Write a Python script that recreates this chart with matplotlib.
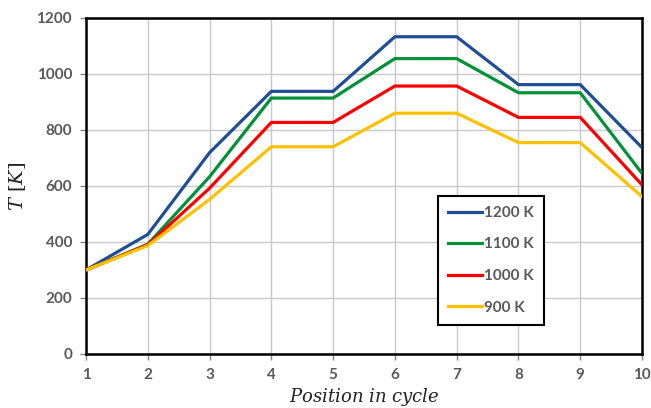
import matplotlib
matplotlib.use("Agg")
import matplotlib.pyplot as plt
from matplotlib.font_manager import FontProperties

positions = [1, 2, 3, 4, 5, 6, 7, 8, 9, 10]
series_labels = ["1200 K", "1100 K", "1000 K", "900 K"]
t_1200 = [300, 427, 719, 938, 938, 1133, 1133, 962, 962, 737]
t_1100 = [300, 392, 633, 914, 914, 1055, 1055, 933, 933, 645]
t_1000 = [300, 390, 592, 827, 827, 957, 957, 845, 845, 604]
t_900 = [300, 387, 552, 740, 740, 860, 860, 755, 755, 562]
colors = ["#1F4E96", "#009139", "#FF0000", "#FFC000"]
yticks = [0, 200, 400, 600, 800, 1000, 1200]

plt.rcParams["mathtext.fontset"] = "dejavuserif"
tickfont = FontProperties(family="Lato", weight="bold", size=11)
gray = "#595959"

fig = plt.figure(figsize=(6.51, 4.08), dpi=100)
ax = fig.add_axes([0.1321, 0.1324, 0.9862 - 0.1321, 0.9559 - 0.1324])

for vals, lab, c in zip([t_1200, t_1100, t_1000, t_900], series_labels, colors):
    ax.plot(positions, vals, color=c, lw=2.3, label=lab, solid_joinstyle="miter", zorder=3)

ax.set_xlim(1, 10)
ax.set_ylim(0, 1200)
ax.set_xticks(positions)
ax.set_yticks(yticks)
ax.grid(True, color="#C8C8C8", lw=1.0, zorder=0)
ax.set_axisbelow(True)
for s in ax.spines.values():
    s.set_color("black")
    s.set_linewidth(1.8)
ax.tick_params(axis="both", length=4, width=1.0, color="#888888", pad=6)
for lbl in ax.get_xticklabels() + ax.get_yticklabels():
    lbl.set_fontproperties(tickfont)
    lbl.set_color(gray)

ax.set_ylabel(r"$T\ [K]$", fontsize=14, labelpad=6, color="#222222")
ax.set_xlabel(r"$Position\ in\ cycle$", fontsize=13, labelpad=3, color="#222222")

leg = ax.legend(loc="upper left", bbox_to_anchor=((438 - 86) / 556, (354 - 196) / 336),
                prop=FontProperties(family="Lato", weight="bold", size=11),
                frameon=True, fancybox=False, edgecolor="black", framealpha=1,
                handlelength=2.2, handletextpad=0.15, labelspacing=1.15,
                borderpad=0.65, borderaxespad=0)
leg.get_frame().set_linewidth(1.5)
for t in leg.get_texts():
    t.set_color(gray)

fig.savefig("out.png", dpi=100)
